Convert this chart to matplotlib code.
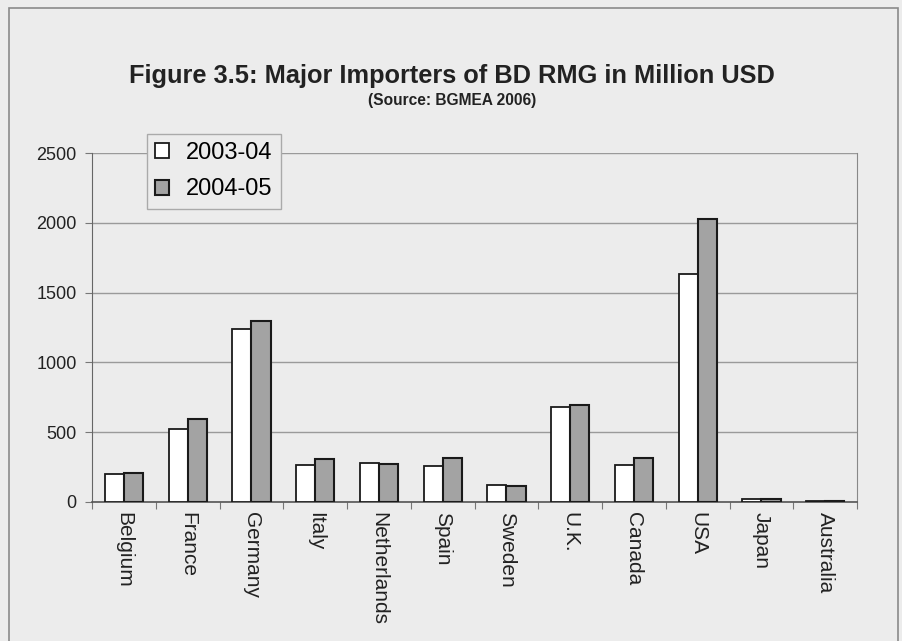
import numpy as np
import matplotlib
matplotlib.use('Agg')
import matplotlib.pyplot as plt
from matplotlib.patches import Rectangle

countries = ['Belgium', 'France', 'Germany', 'Italy', 'Netherlands', 'Spain',
             'Sweden', 'U.K.', 'Canada', 'USA', 'Japan', 'Australia']
y2003_04 = [200, 525, 1238, 262, 276, 255, 124, 683, 262, 1630, 18, 6]
y2004_05 = [208, 596, 1294, 305, 270, 312, 117, 697, 318, 2028, 20, 7]
yticks = [0, 500, 1000, 1500, 2000, 2500]

plt.rcParams['font.family'] = ['Liberation Sans', 'DejaVu Sans']
bg = '#ececec'

fig = plt.figure(figsize=(9.02, 6.41), dpi=100, facecolor=bg)
ax = fig.add_axes([92/902, 1-502/641, (857-92)/902, (502-153)/641])
ax.set_facecolor(bg)

# outer frame
fig.patches.append(Rectangle((9/902, -0.05), (898-9)/902, 1.05-8/641,
                             transform=fig.transFigure, fill=False,
                             edgecolor='#8a8a8a', linewidth=1.2))

x = np.arange(len(countries))
w = 0.3
ax.bar(x - w/2, y2003_04, w, color='white', edgecolor='#1a1a1a', linewidth=1.3,
       label='2003-04', zorder=3)
ax.bar(x + w/2, y2004_05, w, color='#a3a3a3', edgecolor='#1a1a1a', linewidth=1.5,
       label='2004-05', zorder=3)

ax.set_xlim(-0.5, len(countries) - 0.5)
ax.set_ylim(0, 2500)
ax.set_yticks(yticks)
ax.set_yticklabels([str(t) for t in yticks], fontsize=13, color='#222222')
ax.yaxis.grid(True, color='#9a9a9a', linewidth=1.0, zorder=0)

ax.set_xticks(np.arange(len(countries) + 1) - 0.5)
ax.set_xticklabels([])
ax.set_xticks(x, minor=True)
ax.set_xticklabels(countries, minor=True, rotation=270, fontsize=15,
                   color='#222222', va='top', ha='center')
ax.tick_params(axis='x', which='minor', length=0, pad=7)
ax.tick_params(axis='x', which='major', length=5, color='#777777', direction='out')
ax.tick_params(axis='y', length=5, color='#777777', pad=6)

ax.spines['top'].set_visible(False)
ax.spines['left'].set_color('#666666')
ax.spines['right'].set_color('#888888')
ax.spines['bottom'].set_color('#555555')
ax.spines['bottom'].set_linewidth(1.2)

leg = ax.legend(loc='upper left', bbox_to_anchor=((147-92)/765, 1+(153-134)/349),
                fontsize=17, frameon=True, fancybox=False, handlelength=0.6,
                handleheight=0.6, handletextpad=0.7, borderpad=0.35,
                labelspacing=0.6, borderaxespad=0)
leg.get_frame().set_facecolor(bg)
leg.get_frame().set_edgecolor('#aaaaaa')
leg.get_frame().set_alpha(1)

fig.text(452/902, 1-76/641, 'Figure 3.5: Major Importers of BD RMG in Million USD',
         ha='center', va='center', fontsize=18.3, fontweight='bold', color='#222222')
fig.text(452/902, 1-101/641, '(Source: BGMEA 2006)', ha='center', va='center',
         fontsize=11.2, fontweight='bold', color='#222222')

fig.savefig('out.png', dpi=100, facecolor=bg)
